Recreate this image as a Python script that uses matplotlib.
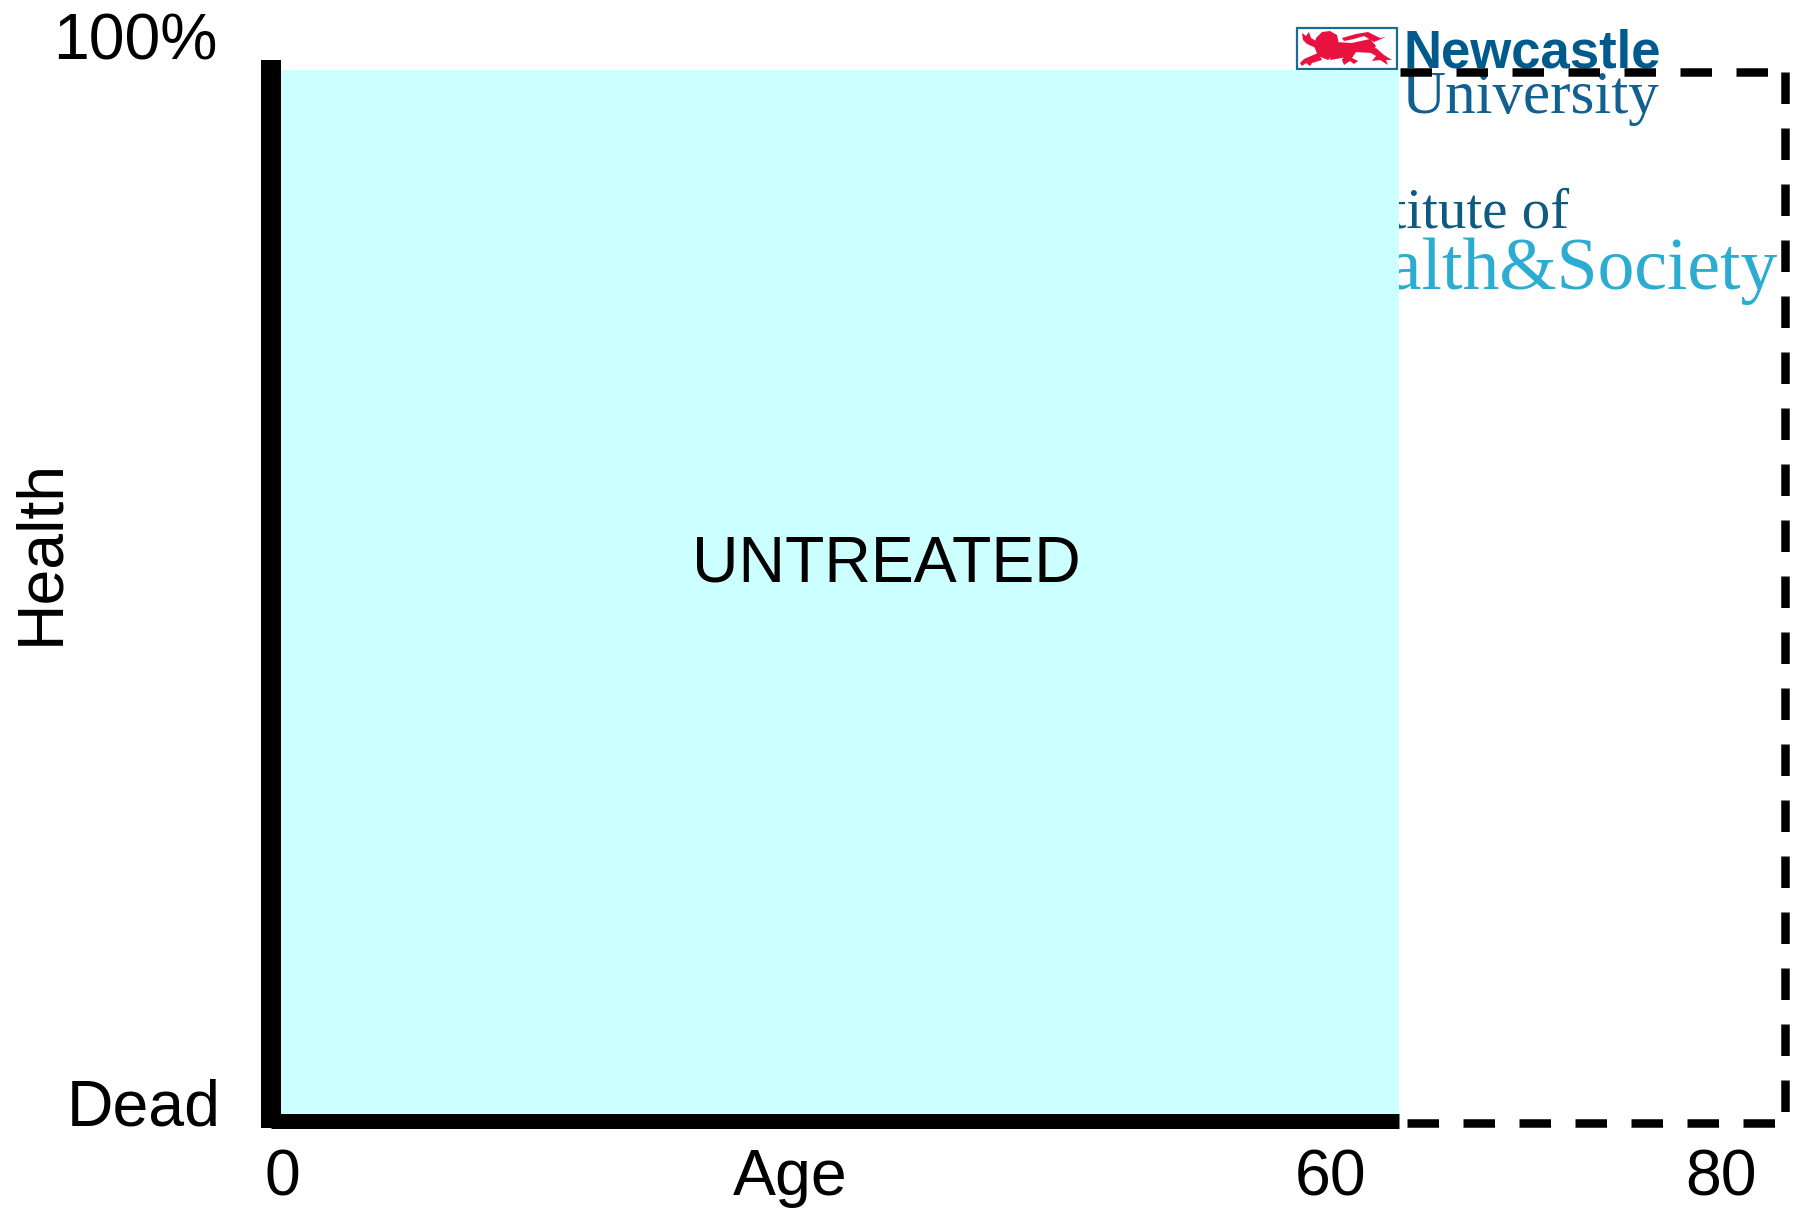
import matplotlib
matplotlib.use("Agg")
import matplotlib.pyplot as plt
from matplotlib.patches import Polygon, Rectangle
from matplotlib.transforms import Affine2D

W, H = 1796, 1208

# data
age_start = 0
age_treated = 59.6
age_end = 80
health_dead = 0
health_full = 100
age_tick_labels = ["0", "60", "80"]
age_tick_px = [282, 1331, 1721]
health_tick_labels = ["100%", "Dead"]

plt.rcParams["font.family"] = ["Liberation Sans", "DejaVu Sans"]
plt.rcParams["lines.scale_dashes"] = False

fig = plt.figure(figsize=(W / 100, H / 100), dpi=100, facecolor="white")
# axes box in pixels: x 271-1785, y 72-1120
ax = fig.add_axes([271 / W, 1 - 1120.5 / H, (1785 - 271) / W, (1120.5 - 72) / H])
ax.set_xlim(age_start, age_end)
ax.set_ylim(health_dead, health_full)
ax.patch.set_visible(False)
ax.set_xticks([])
ax.set_yticks([])

# pixel coordinates, top-left origin, for labels and logo
px = Affine2D().scale(1, -1).translate(0, H)
PT = 0.72  # points per pixel at dpi 100

for s in ["top", "right"]:
    ax.spines[s].set_visible(False)
ax.spines["left"].set_linewidth(20 * PT)
ax.spines["left"].set_bounds(-0.72, 101.15)
ax.spines["left"].set_capstyle("butt")
ax.spines["bottom"].set_linewidth(15 * PT)
ax.spines["bottom"].set_bounds(age_start, age_treated)
ax.spines["bottom"].set_capstyle("butt")

# logo text, cut off by the cyan block
BLUE = "#005a8c"
ax.text(1661, 67, "Newcastle", transform=px, ha="right", va="baseline", fontsize=38,
        fontweight="bold", color=BLUE, zorder=0.5, clip_on=False)
ax.text(1660, 113, "University", transform=px, ha="right", va="baseline", fontsize=44,
        family="Liberation Serif", color="#12608f", zorder=0.5, clip_on=False)
ax.text(1569, 227, "Institute of", transform=px, ha="right", va="baseline", fontsize=41,
        family="Liberation Serif", color="#0f5a80", zorder=0.5, clip_on=False)
ax.text(1778, 289, "Health&Society", transform=px, ha="right", va="baseline", fontsize=53,
        family="Liberation Serif", color="#2bacd0", zorder=0.5, clip_on=False)

# crest
ax.add_patch(Rectangle((1297, 28), 100, 41, transform=px, facecolor="white",
                       edgecolor="#1a6a9a", lw=1.6, zorder=0.6, clip_on=False))
lion_parts = [
    # head and mane
    [(1316, 38), (1322, 32), (1330, 31), (1337, 35), (1339, 44), (1336, 53), (1328, 60), (1318, 56), (1314, 46)],
    # front paws
    [(1302, 33), (1306, 36), (1309, 32), (1311, 38), (1318, 42), (1316, 48), (1307, 44), (1303, 40)],
    [(1300, 63), (1304, 59), (1318, 53), (1322, 60), (1312, 63), (1310, 66), (1306, 63), (1302, 66)],
    # body
    [(1334, 42), (1352, 43), (1370, 39), (1376, 46), (1372, 53), (1354, 52), (1342, 58), (1330, 60)],
    # tail
    [(1342, 38), (1356, 34), (1368, 32), (1380, 38), (1386, 37), (1374, 42), (1364, 36), (1354, 39), (1344, 41)],
    # back legs
    [(1366, 50), (1376, 48), (1384, 55), (1392, 60), (1386, 60), (1388, 65), (1380, 60), (1372, 61), (1376, 56)],
    [(1346, 52), (1356, 52), (1352, 58), (1358, 61), (1354, 64), (1350, 61), (1344, 65), (1342, 60)],
]
for part in lion_parts:
    ax.add_patch(Polygon(part, closed=True, transform=px, facecolor="#e8113f", edgecolor="none",
                         zorder=0.7, clip_on=False))

# untreated block
ax.axvspan(10 / 18.925, age_treated, ymin=0, ymax=100.2 / 100, facecolor="#ccffff",
           edgecolor="none", zorder=1, clip_on=False)

# dashed box
dash_kw = dict(color="black", lw=8.5 * PT, clip_on=False, zorder=3, dash_capstyle="butt")
dash = (0, (31.5 * PT, 24.5 * PT))
ax.plot([age_treated + 8 / 18.925, age_end - 9 / 18.925], [health_dead - 0.2, health_dead - 0.2], ls=dash, **dash_kw)
ax.plot([age_treated + 1 / 18.925, age_end - 9 / 18.925], [health_full, health_full], ls=dash, **dash_kw)
ax.plot([age_end, age_end], [health_full, health_dead + 0.8], ls=dash, **dash_kw)

# labels
TS = 46.4
for lab, x in zip(age_tick_labels, age_tick_px):
    fig.text(x, 1195, lab, transform=px, ha="center", va="baseline", fontsize=TS)
fig.text(790, 1195, "Age", transform=px, ha="center", va="baseline", fontsize=TS)
fig.text(217, 60, health_tick_labels[0], transform=px, ha="right", va="baseline", fontsize=TS)
fig.text(221, 1125, health_tick_labels[1], transform=px, ha="right", va="baseline", fontsize=TS)
fig.text(41, 552, "Health", transform=px, ha="center", va="center", rotation=90, fontsize=TS)
fig.text(886, 581, "UNTREATED", transform=px, ha="center", va="baseline", fontsize=TS, zorder=5)

fig.savefig("out.png", dpi=100)
